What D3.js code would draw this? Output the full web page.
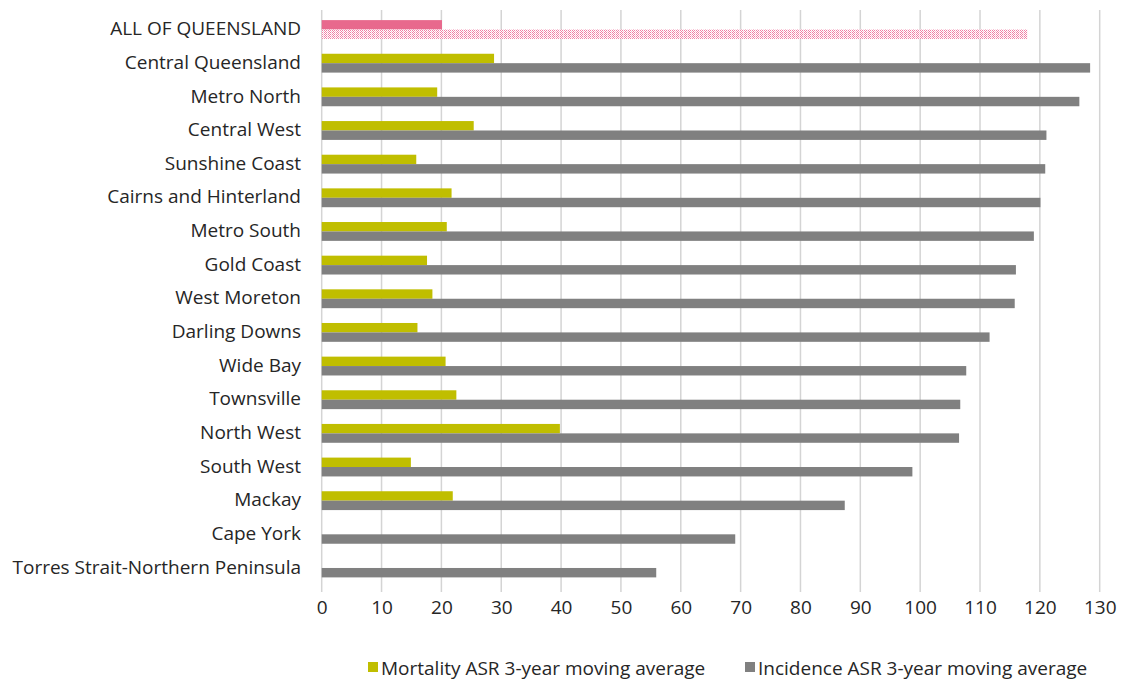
<!DOCTYPE html>
<html>
<head>
<meta charset="utf-8">
<script src="https://cdn.jsdelivr.net/npm/d3@7/dist/d3.min.js"></script>
<style>
  html, body { margin: 0; padding: 0; background: #fff; }
  svg { display: block; }
  text { font-family: "Open Sans", sans-serif; fill: #262626; }
</style>
</head>
<body>
<svg id="chart" width="1126" height="682"></svg>
<script>
const categories = ["ALL OF QUEENSLAND","Central Queensland","Metro North","Central West","Sunshine Coast","Cairns and Hinterland","Metro South","Gold Coast","West Moreton","Darling Downs","Wide Bay","Townsville","North West","South West","Mackay","Cape York","Torres Strait-Northern Peninsula"];
const mortality = [20.1, 28.8, 19.3, 25.4, 15.8, 21.7, 20.9, 17.6, 18.5, 16.0, 20.7, 22.5, 39.8, 14.9, 21.9, null, null];
const incidence = [117.9, 128.4, 126.6, 121.1, 120.9, 120.1, 119.0, 116.0, 115.8, 111.6, 107.7, 106.7, 106.5, 98.7, 87.4, 69.1, 55.9];
const seriesNames = ["Mortality ASR 3-year moving average", "Incidence ASR 3-year moving average"];
const xTicks = [0,10,20,30,40,50,60,70,80,90,100,110,120,130];

const colors = { mort: "#C0BE00", inc: "#808080", allMort: "#E8698D", allIncDot: "#F07FA5" };
const FONT = "'Open Sans', sans-serif";
const FS = 19;

const svg = d3.select("#chart");

const x = d3.scaleLinear().domain([0, 130]).range([321.7, 1099.7]);
const y = d3.scaleBand().domain(categories).range([12.7, 584.8]).paddingInner(0.44).paddingOuter(0.22);
const sub = d3.scaleBand().domain(["mort", "inc"]).range([0, y.bandwidth()]);

// pattern for dotted pink bar
const defs = svg.append("defs");
const pat = defs.append("pattern").attr("id", "dots").attr("patternUnits", "userSpaceOnUse")
  .attr("width", 4).attr("height", 2);
pat.append("rect").attr("width", 4).attr("height", 2).attr("fill", "#fff");
pat.append("rect").attr("x", 0).attr("y", 0).attr("width", 1).attr("height", 1).attr("fill", colors.allIncDot);
pat.append("rect").attr("x", 2).attr("y", 0).attr("width", 1).attr("height", 1).attr("fill", colors.allIncDot);
pat.append("rect").attr("x", 1).attr("y", 1).attr("width", 1).attr("height", 1).attr("fill", colors.allIncDot);
pat.append("rect").attr("x", 3).attr("y", 1).attr("width", 1).attr("height", 1).attr("fill", "#F8C0D4");

// gridlines
svg.append("g").selectAll("line").data(xTicks).join("line")
  .attr("x1", d => x(d)).attr("x2", d => x(d))
  .attr("y1", 10).attr("y2", 592)
  .attr("stroke", "#d4d4d4").attr("stroke-width", 1.5);

// axis labels
const xAxis = d3.axisBottom(x).tickValues(xTicks).tickSize(0).tickPadding(0);
const gx = svg.append("g").attr("transform", "translate(0,598)").call(xAxis);
gx.select(".domain").remove();
gx.selectAll("text").attr("font-size", FS).attr("font-family", FONT).attr("fill", "#262626").attr("dy", "0.85em");

const yAxis = d3.axisLeft(y).tickSize(0).tickPadding(0);
const gy = svg.append("g").attr("transform", "translate(301,0)").call(yAxis);
gy.select(".domain").remove();
gy.selectAll("text").attr("font-size", FS).attr("font-family", FONT).attr("fill", "#262626").attr("dy", "0.3em");

// bars
const rows = categories.map((c, i) => ({ c, i, m: mortality[i], n: incidence[i] }));
const g = svg.append("g");
g.selectAll("rect.mort").data(rows.filter(d => d.m != null)).join("rect")
  .attr("class", "mort")
  .attr("x", x(0)).attr("y", d => y(d.c) + sub("mort"))
  .attr("width", d => x(d.m) - x(0)).attr("height", sub.bandwidth())
  .attr("fill", d => d.i === 0 ? colors.allMort : colors.mort);
g.selectAll("rect.inc").data(rows.filter(d => d.n != null)).join("rect")
  .attr("class", "inc")
  .attr("x", x(0)).attr("y", d => y(d.c) + sub("inc"))
  .attr("width", d => x(d.n) - x(0)).attr("height", sub.bandwidth())
  .attr("fill", d => d.i === 0 ? "url(#dots)" : colors.inc);

// legend
const legend = svg.append("g").attr("transform", "translate(0,668)");
const legendItems = [
  { name: seriesNames[0], color: colors.mort, x: 368 },
  { name: seriesNames[1], color: colors.inc, x: 745 }
];
legendItems.forEach(it => {
  legend.append("rect").attr("x", it.x).attr("y", -6).attr("width", 10).attr("height", 10).attr("fill", it.color);
  legend.append("text").attr("x", it.x + 13).attr("y", 0).attr("dy", "0.35em")
    .attr("font-size", FS).attr("font-family", FONT).text(it.name);
});
</script>
</body>
</html>
